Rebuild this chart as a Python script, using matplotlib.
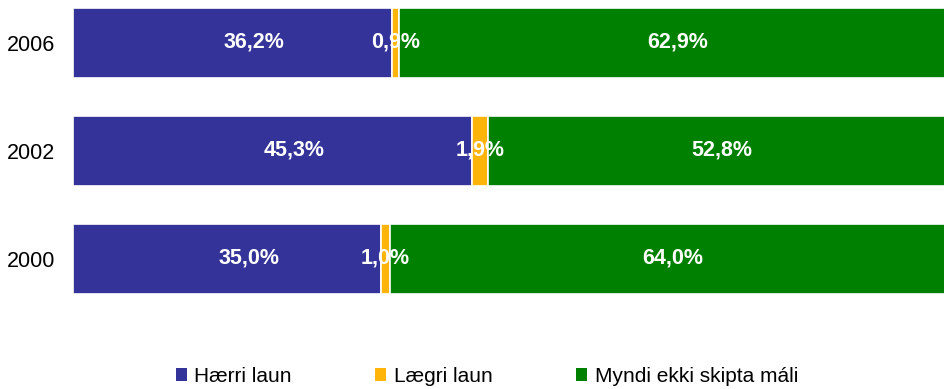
import matplotlib
matplotlib.use("Agg")
import matplotlib.pyplot as plt
from matplotlib.patches import Patch
import numpy as np

plt.rcParams['font.family'] = ['Liberation Sans', 'DejaVu Sans']

years = ["2000", "2002", "2006"]
series_names = ["Hærri laun", "Lægri laun", "Myndi ekki skipta máli"]
haerri = [35.0, 45.3, 36.2]
laegri = [1.0, 1.9, 0.9]
myndi = [64.0, 52.8, 62.9]
colors = ["#333399", "#FFB40A", "#008000"]

fig = plt.figure(figsize=(9.44, 3.89), dpi=100)
ax = fig.add_axes([73/944, (389-294)/389, 880/944, 286/389])

y = np.arange(len(years))
values = [haerri, laegri, myndi]
label_offsets = [22, 0, 1.5]  # pixels
left = np.zeros(len(years))
for vals, c, off in zip(values, colors, label_offsets):
    vals = np.array(vals)
    ax.barh(y, vals, left=left, height=0.65, color=c, edgecolor="white", linewidth=1.2)
    for yi, l, v in zip(y, left, vals):
        ax.annotate(f"{v:.1f}%".replace(".", ","), xy=(l + v / 2, yi), xytext=(off, 1),
                    textcoords="offset pixels", ha="center", va="center",
                    color="white", fontsize=15.5, fontweight="bold")
    left += vals

ax.set_xlim(0, 100)
ax.set_ylim(-0.325, 2.325)
ax.set_yticks(y)
ax.set_yticklabels(years, fontsize=15.5)
ax.set_xticks([])
ax.tick_params(axis="y", length=0, pad=13)
for s in ax.spines.values():
    s.set_visible(False)

handles = [Patch(facecolor=c, edgecolor="none") for c in colors]
fig.legend(handles, series_names, loc="center", bbox_to_anchor=(0.516, 1 - 376.5/389),
           ncol=3, frameon=False, fontsize=15, handlelength=0.53, handleheight=0.53,
           handletextpad=0.38, columnspacing=4.0)

fig.savefig("out.png", dpi=100)
